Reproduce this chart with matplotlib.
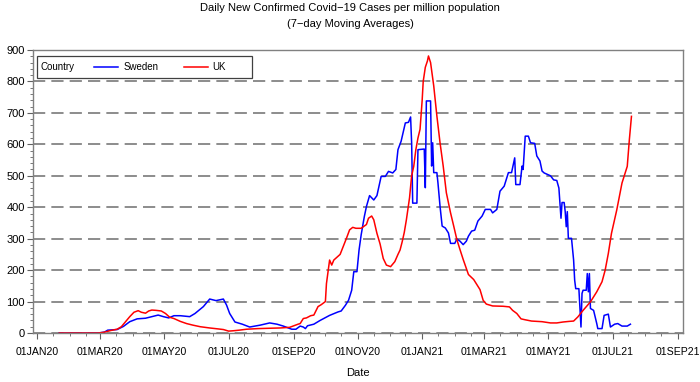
import numpy as np
import pandas as pd
import matplotlib
matplotlib.use("Agg")
import matplotlib.pyplot as plt
import matplotlib.dates as mdates
from matplotlib.ticker import MultipleLocator, FuncFormatter
from matplotlib.patches import Rectangle

plt.rcParams['font.family'] = ['Liberation Sans', 'DejaVu Sans']

start = pd.Timestamp("2020-01-01")

# days since 01JAN20 and 7-day average cases per million
sweden_day = [21, 58, 64, 67, 76, 82, 88, 95, 103, 109, 115, 120, 125, 130, 136, 145,
              150, 158, 164, 170, 177, 180, 183, 188, 195, 202, 212, 221, 228, 234,
              242, 246, 250, 253, 255, 257, 263, 269, 278, 286, 289, 293, 296, 299,
              301, 304, 306, 308, 311, 313, 316, 320, 323, 327, 331, 334, 338, 341,
              343, 346, 350, 353, 355, 356, 357, 361, 362, 368, 369, 370, 374, 375,
              376, 377, 380, 381, 383, 385, 388, 391, 393, 397, 399, 402, 405, 408,
              410, 413, 416, 419, 423, 426, 431, 433, 437, 440, 444, 448, 451, 454,
              455, 459, 461, 462, 464, 467, 469, 473, 475, 478, 480, 482, 488, 491,
              494, 496, 497, 498, 499, 501, 502, 503, 504, 505, 508, 510, 511, 512,
              515, 517, 518, 519, 522, 523, 524, 525, 526, 529, 532, 533, 537, 539,
              543, 545, 549, 552, 556, 561, 564]
sweden_val = [0, 0, 3, 9, 11, 21, 36, 45, 47, 52, 57, 52, 48, 55, 55, 52,
              62, 84, 108, 103, 108, 89, 62, 35, 28, 19, 25, 32, 28, 22,
              12, 12, 22, 19, 14, 23, 28, 40, 56, 67, 70, 88, 104, 136,
              195, 195, 264, 312, 370, 402, 437, 423, 437, 498, 498, 514, 509, 520,
              583, 610, 668, 670, 687, 604, 413, 413, 583, 585, 462, 738, 738, 531,
              605, 510, 510, 478, 403, 340, 334, 318, 285, 285, 299, 292, 281, 292,
              308, 324, 327, 356, 372, 393, 393, 382, 393, 451, 467, 510, 510, 557,
              472, 472, 531, 520, 626, 626, 605, 603, 563, 547, 515, 509, 500, 487,
              485, 461, 413, 365, 415, 415, 386, 338, 386, 301, 301, 232, 168, 141,
              141, 19, 126, 136, 136, 189, 131, 189, 78, 72, 30, 14, 14, 56,
              60, 19, 28, 30, 22, 22, 28]

uk_day = [21, 58, 63, 70, 76, 80, 85, 88, 92, 96, 99, 103, 106, 109, 113, 118, 122,
          126, 130, 136, 142, 148, 155, 164, 172, 177, 182, 186, 192, 199, 210, 220,
          231, 240, 244, 248, 250, 253, 256, 260, 263, 267, 270, 274, 275, 278, 280,
          282, 288, 294, 297, 300, 303, 308, 313, 315, 318, 320, 323, 326, 329, 332,
          336, 340, 343, 345, 347, 349, 351, 354, 356, 358, 360, 362, 364, 366, 367,
          369, 371, 372, 374, 377, 380, 383, 386, 389, 393, 396, 399, 402, 405, 410,
          415, 421, 424, 427, 433, 443, 449, 452, 456, 460, 464, 470, 480, 488, 494,
          500, 506, 510, 514, 519, 526, 532, 537, 540, 543, 546, 551, 556, 561, 563,
          565]
uk_val = [0, 0, 2, 8, 12, 20, 40, 52, 66, 71, 66, 63, 70, 73, 72, 70, 62,
          50, 46, 37, 30, 25, 20, 16, 13, 11, 6, 7, 9, 12, 14, 15,
          16, 18, 23, 28, 30, 46, 48, 55, 57, 84, 90, 100, 157, 232, 216,
          232, 250, 301, 328, 336, 333, 333, 345, 365, 372, 360, 317, 283, 237, 216,
          211, 227, 250, 264, 290, 320, 360, 430, 500, 530, 583, 620, 648, 740, 800,
          845, 865, 881, 860, 786, 690, 605, 531, 446, 382, 340, 297, 265, 234, 186,
          170, 138, 104, 92, 86, 85, 83, 72, 62, 45, 42, 38, 36, 32, 32,
          35, 37, 38, 51, 72, 99, 131, 163, 200, 253, 317, 391, 477, 530, 615,
          689]

sweden_date = start + pd.to_timedelta(sweden_day, unit="D")
uk_date = start + pd.to_timedelta(uk_day, unit="D")

fig = plt.figure(figsize=(7, 3.82), dpi=100)
ax = fig.add_axes([33/700, 1 - 333/382, 650/700, 283/382])

l1, = ax.plot(sweden_date, sweden_val, color='#0000ff', lw=1.1)
l2, = ax.plot(uk_date, uk_val, color='#ff0000', lw=1.1)

ax.set_xlim(pd.Timestamp("2019-12-28"), pd.Timestamp("2021-09-06"))
ax.set_ylim(0, 900)

ax.xaxis.set_major_locator(mdates.MonthLocator(bymonth=[1, 3, 5, 7, 9, 11]))
ax.xaxis.set_minor_locator(mdates.DayLocator(bymonthday=[1, 16]))
ax.xaxis.set_major_formatter(FuncFormatter(lambda v, p: mdates.num2date(v).strftime('%d%b%y').upper()))
ax.yaxis.set_major_locator(MultipleLocator(100))
ax.yaxis.set_minor_locator(MultipleLocator(20))

ax.yaxis.grid(True, color='#6e6e6e', lw=1.1, linestyle=(0, (8, 4)))
ax.set_axisbelow(True)
for s in ax.spines.values():
    s.set_color('#808080')
    s.set_linewidth(1.0)

ax.tick_params(axis='both', which='major', length=4, width=0.8, color='#606060', labelsize=8)
ax.tick_params(axis='x', which='major', labelsize=7.6)
ax.tick_params(axis='both', which='minor', length=2, width=0.6, color='#606060')
ax.tick_params(axis='y', pad=2)
ax.tick_params(axis='x', pad=6)

# legend box
ax.add_patch(Rectangle((0.006, 0.901), 0.331, 0.078, transform=ax.transAxes,
                       fill=False, edgecolor='#404040', lw=0.9, zorder=5))
ax.text(0.011, 0.94, 'Country', transform=ax.transAxes, va='center', ha='left', fontsize=7)
ax.legend([l1, l2], ['Sweden', 'UK'], loc='center left', bbox_to_anchor=(0.094, 0.94),
          ncol=2, frameon=False, fontsize=7, handlelength=2.5, handletextpad=0.5,
          columnspacing=2.6, borderpad=0, borderaxespad=0)

fig.text(0.5, 1 - 8/382, 'Daily New Confirmed Covid\u221219 Cases per million population',
         ha='center', va='center', fontsize=8)
fig.text(0.5, 1 - 24/382, '(7\u2212day Moving Averages)', ha='center', va='center', fontsize=8)
fig.text(358/700, 1 - 373/382, 'Date', ha='center', va='center', fontsize=8)

fig.savefig('out.png', dpi=100)
